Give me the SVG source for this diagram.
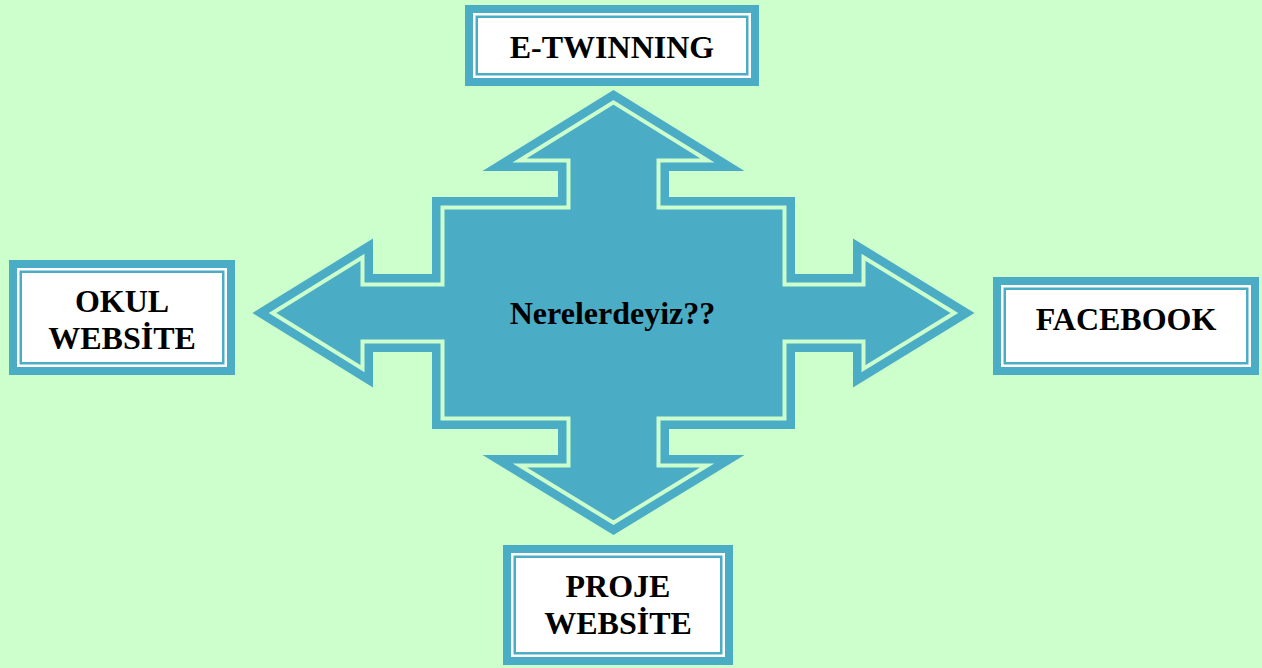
<svg xmlns="http://www.w3.org/2000/svg" width="1262" height="668" viewBox="0 0 1262 668">
<defs>
<style>
.bg{fill:#CCFFCC}
.teal{fill:#4BACC6}
.white{fill:#FFFFFF}
.line{fill:none;stroke:#4BACC6;stroke-width:2.5}
.arrow-outer{fill:#4BACC6}
.arrow-inner{fill:#4BACC6;stroke:#CCFFCC;stroke-width:4;stroke-linejoin:miter}
.t{font-family:"Liberation Serif","Times New Roman",serif;font-weight:bold;font-size:32px;fill:#000;text-anchor:middle}
</style>
</defs>
<rect class="bg" x="0" y="0" width="1262" height="668"/>
<g id="connectors">
<polygon class="arrow-outer" points="613.5,90 744.5,171 669,171 669,197 795,197 795,274 853,274 853,238.5 974.5,313 853,387.5 853,352 795,352 795,429 669,429 669,455 744.5,455 613.5,535 482.5,455 558,455 558,429 432,429 432,352 373,352 373,387.5 252.5,313 373,238.5 373,274 432,274 432,197 558,197 558,171 482.5,171"/>
<polygon class="arrow-inner" points="613.5,102.35 707.55,160.5 658.5,160.5 658.5,207.5 784.5,207.5 784.5,284.5 863.5,284.5 863.5,257.26 954.4,313 863.5,368.74 863.5,341.5 784.5,341.5 784.5,418.5 658.5,418.5 658.5,465.5 707.17,465.5 613.5,522.7 519.83,465.5 568.5,465.5 568.5,418.5 442.5,418.5 442.5,341.5 362.5,341.5 362.5,368.64 272.5,313 362.5,257.36 362.5,284.5 442.5,284.5 442.5,207.5 568.5,207.5 568.5,160.5 519.45,160.5"/>
</g>
<g id="center">
<text class="t" x="612.5" y="324.3">Nerelerdeyiz??</text>
</g>
<g id="etwinning">
<rect class="teal" x="465" y="5" width="294" height="81"/>
<rect class="white" x="473" y="13" width="278" height="65"/>
<rect class="line" x="476.75" y="16.75" width="270.5" height="57.5"/>
<text class="t" x="612" y="58">E-TWINNING</text>
</g>
<g id="okul">
<rect class="teal" x="9" y="260" width="226" height="115"/>
<rect class="white" x="17" y="268" width="210" height="99"/>
<rect class="line" x="20.75" y="271.75" width="202.5" height="91.5"/>
<text class="t" x="122" y="312">OKUL</text>
<text class="t" x="122" y="349">WEBSİTE</text>
</g>
<g id="facebook">
<rect class="teal" x="993" y="277" width="266" height="98"/>
<rect class="white" x="1001" y="285" width="250" height="82"/>
<rect class="line" x="1004.75" y="288.75" width="242.5" height="74.5"/>
<text class="t" x="1126" y="330">FACEBOOK</text>
</g>
<g id="proje">
<rect class="teal" x="503" y="545" width="230" height="120"/>
<rect class="white" x="511" y="553" width="214" height="104"/>
<rect class="line" x="514.75" y="556.75" width="206.5" height="96.5"/>
<text class="t" x="618" y="597">PROJE</text>
<text class="t" x="618" y="634">WEBSİTE</text>
</g>
</svg>
